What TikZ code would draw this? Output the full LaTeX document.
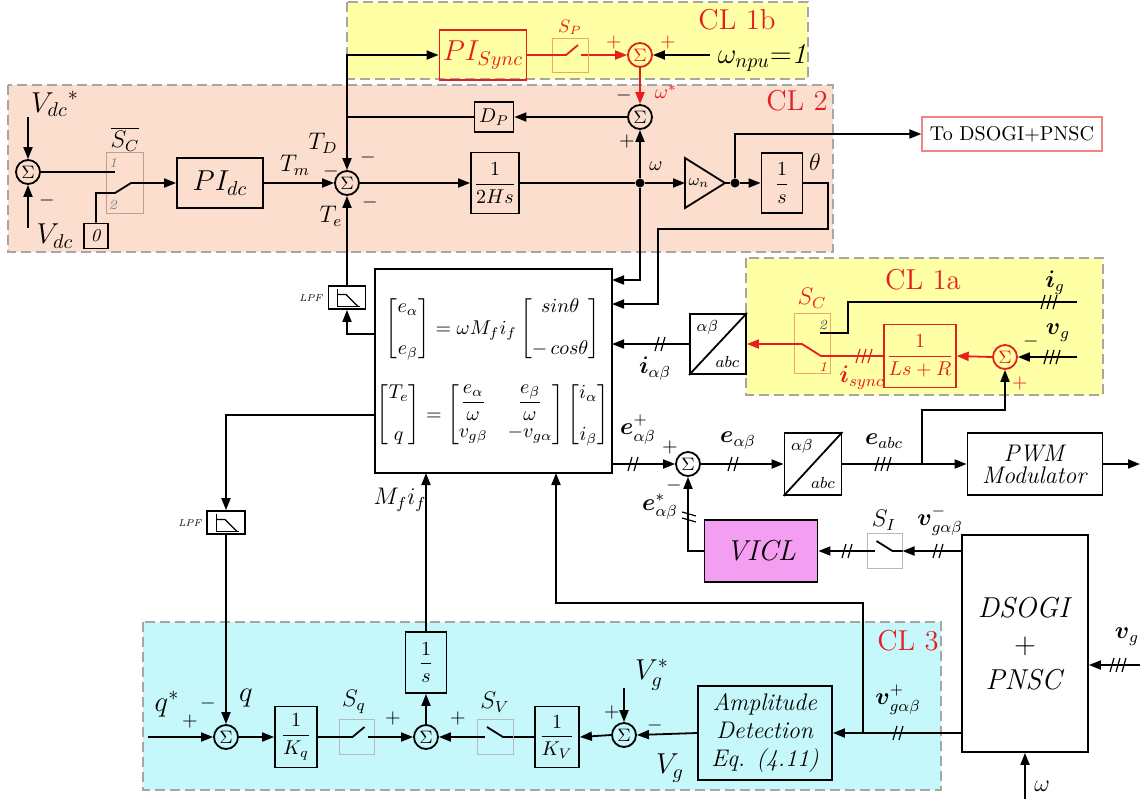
\documentclass[tikz,border=0pt]{standalone}
\usepackage{amsmath,amssymb}
\usetikzlibrary{arrows.meta}
\definecolor{clyellow}{RGB}{255,255,165}
\definecolor{clpeach}{RGB}{251,222,206}
\definecolor{clcyan}{RGB}{198,247,250}
\definecolor{clred}{RGB}{230,30,30}
\definecolor{viclpink}{RGB}{243,158,240}
\definecolor{swgray}{RGB}{185,185,185}
\definecolor{sworange}{RGB}{238,170,100}
\definecolor{swbrown}{RGB}{190,160,140}

\begin{document}
\begin{tikzpicture}[x=0.5pt, y=-0.5pt, line width=0.9pt, >={Triangle[length=6pt,width=4.5pt]},
  every node/.style={font=\normalsize},
  blk/.style={draw, inner sep=1pt},
  sumnode/.style={draw, circle, inner sep=0pt, minimum size=12pt, font=\small},
  swbox/.style={draw=swgray, line width=0.5pt, inner sep=0pt},
  region/.style={draw=gray!70, line width=1pt, dash pattern=on 5pt off 2.5pt},
  cllabel/.style={text=clred, font=\Large},
  sgn/.style={inner sep=0pt},
  dot/.style={circle, fill, inner sep=0pt, minimum size=4.5pt},
  bustwo/.pic={\draw[line width=0.6pt] (-5,7) -- (-1,-7) (1,7) -- (5,-7);},
  busthree/.pic={\draw[line width=0.6pt] (-7,7) -- (-3,-7) (-1,7) -- (3,-7) (5,7) -- (9,-7);},
  lpfsym/.pic={\draw[line width=0.4pt] (-10,-9) -- (-10,9) -- (13,9); \draw[line width=0.6pt] (-10,-3) -- (-1,-3) -- (11,9);},
  swup/.pic={\draw (-18,0) -- (-4,0) -- (8,-10); \draw (11,0) -- (18,0);},
  swdown/.pic={\draw (-18,0) -- (-10,0); \draw (-8,-10) -- (8,0) -- (18,0);}]
  \useasboundingbox (0,0) rectangle (1147,799);

  % control loop areas
  \filldraw[region, fill=clpeach] (8,85) rectangle (833,252);
  \filldraw[region, fill=clyellow] (347,2) rectangle (808,79);
  \filldraw[region, fill=clyellow] (746,258) rectangle (1103,395);
  \filldraw[region, fill=clcyan] (143,622) rectangle (941,790);
  \node[cllabel] (cl1b) at (737,20) {CL 1b};
  \node[cllabel] (cl2) at (797,101) {CL 2};
  \node[cllabel] (cl1a) at (923,280) {CL 1a};
  \node[cllabel] (cl3) at (908,641) {CL 3};

  % CL 1b
  \node[blk, draw=clred, text=clred, minimum width=43.5pt, minimum height=25pt, font=\Large] (pisync) at (483,55) {$PI_{Sync}$};
  \node[swbox, draw=sworange, minimum width=18pt, minimum height=17pt] (swp) at (570,55) {};
  \pic[clred] at (swp) {swup};
  \node[text=clred, font=\small] (lsp) at (570,27) {$S_P$};
  \node[sumnode, draw=clred, text=clred] (s1) at (640,55) {$\Sigma$};
  \node[sgn, text=clred] (pl1) at (614,42) {$+$};
  \node[sgn, text=clred] (pl2) at (668,42) {$+$};
  \node[font=\Large] (wnpu) at (762,58) {$\omega_{npu}{=}\textit{1}$};
  \draw[clred] (pisync.east) -- (swp.west);
  \draw[clred, ->] (swp.east) -- (s1.west);
  \draw[->] (wnpu.west |- s1) -- (s1.east);

  % CL 2
  \node[sumnode] (s2) at (640,117) {$\Sigma$};
  \draw[clred, ->] (s1.south) -- (s2.north);
  \node[sgn] (mi1) at (624,95) {$-$};
  \node[text=clred] (wstar) at (666,92) {$\omega^{*}$};
  \node[sgn] (pl3) at (627,141) {$+$};
  \node[blk, minimum width=19.5pt, minimum height=15pt] (dp) at (494,117) {$D_P$};
  \draw[->] (s2.west) -- (dp.east);
  \node[sumnode] (sT) at (347,183) {$\Sigma$};
  \draw[->] (dp.west) -- (347,117) -- (sT.north);
  \draw[->] (347,117) -- (347,55) -- (pisync.west);
  \node[font=\large] (ltd) at (323,143) {$T_D$};
  \node[font=\large] (ltm) at (295,165) {$T_m$};
  \node[font=\large] (lte) at (331,216) {$T_e$};
  \node[sgn] (mi2) at (331,171) {$-$};
  \node[sgn] (mi3) at (368,157) {$-$};
  \node[sgn] (mi4) at (370,202) {$-$};
  \node[blk, minimum width=43pt, minimum height=25pt, font=\Large] (pidc) at (220,183) {$PI_{dc}$};
  \draw[->] (pidc.east) -- (sT.west);

  \node[sumnode] (sV) at (28,172) {$\Sigma$};
  \coordinate (vref) at (28,117);
  \coordinate (vmeas) at (28,228);
  \draw[->] (vref) -- (sV.north);
  \draw[->] (vmeas) -- (sV.south);
  \node[font=\Large] (lvref) at (55,104) {${V_{dc}}^{*}$};
  \node[font=\Large] (lvdc) at (55,236) {$V_{dc}$};
  \node[sgn] (mi5) at (47,200) {$-$};
  \node[swbox, draw=swbrown, minimum width=18.5pt, minimum height=30.5pt] (swdc) at (124.5,182.5) {};
  \node[font=\large] (lsc) at (125,139) {$\overline{S_C}$};
  \node[font=\scriptsize, text=gray] (t1a) at (113,163) {\textit{1}};
  \node[font=\scriptsize, text=gray] (t2a) at (113,205) {\textit{2}};
  \node[blk, minimum width=12pt, minimum height=12.5pt, font=\small] (zero) at (96,236) {\textit{0}};
  \draw (sV.east) -- (115,172);
  \draw[->] (zero.north) |- (115,193) -- (131,183) -- (pidc.west);

  \node[blk, minimum width=24pt, minimum height=30.5pt] (hs) at (495,183) {$\dfrac{1}{2Hs}$};
  \draw[->] (sT.east) -- (hs.west);
  \node[dot] (wdot) at (640,183) {};
  \draw (hs.east) -- (wdot);
  \draw[->] (wdot) -- (s2.south);
  \node (lw) at (656,166) {$\omega$};
  \coordinate (gin) at (685,183);
  \coordinate (gout) at (725,183);
  \draw (685,158) -- (gout) -- (685,208) -- cycle;
  \node[font=\footnotesize] (lwn) at (699,183) {$\omega_n$};
  \draw[->] (wdot) -- (gin);
  \node[dot] (tdot) at (735,183) {};
  \draw (gout) -- (tdot);
  \node[blk, minimum width=20.5pt, minimum height=30pt] (ints) at (782,183) {$\dfrac{1}{s}$};
  \draw[->] (tdot) -- (ints.west);
  \node[font=\large] (lth) at (815,162) {$\theta$};
  \node[draw=clred!55, line width=0.6pt, minimum width=90pt, minimum height=17pt] (todsogi) at (1012,134) {To DSOGI+PNSC};
  \draw[->] (tdot) |- (todsogi.west);

  % virtual synchronous machine equations
  \node[blk, minimum width=118.5pt, minimum height=102pt] (main) at (493.5,371) {};
  \node[inner sep=0pt] (eqa) at (493,329) {$\begin{bmatrix} e_\alpha \\[9pt] e_\beta \end{bmatrix} = \omega M_f i_f \begin{bmatrix} sin\theta \\[9pt] -\,cos\theta \end{bmatrix}$};
  \node[inner sep=0pt] (eqb) at (493,415) {$\begin{bmatrix} T_e \\[9pt] q \end{bmatrix} = \begin{bmatrix} \dfrac{e_\alpha}{\omega} & \dfrac{e_\beta}{\omega} \\[2pt] v_{g\beta} & -v_{g\alpha} \end{bmatrix} \begin{bmatrix} i_\alpha \\[9pt] i_\beta \end{bmatrix}$};
  \draw[->] (wdot) -- (640,280) -- (612,280);
  \draw[->] (ints.east) -- (828,183) -- (828,229) -- (658,229) -- (658,304) -- (612,304);

  \node[blk, minimum width=18.5pt, minimum height=11.5pt] (lpf1) at (347,297.5) {};
  \pic at (lpf1) {lpfsym};
  \node[font=\tiny] (llpf1) at (311,298) {\textit{LPF}};
  \draw[->] (375,334) -| (lpf1.south);
  \draw[->] (lpf1.north) -- (sT.south);
  \node[blk, minimum width=19pt, minimum height=11.5pt] (lpf2) at (226,522.5) {};
  \pic at (lpf2) {lpfsym};
  \node[font=\tiny] (llpf2) at (190,523) {\textit{LPF}};
  \draw[->] (375,415) -| (lpf2.north);

  % CL 1a
  \node[blk, minimum width=28pt, minimum height=30pt] (abc2) at (718,344) {};
  \draw (abc2.south west) -- (abc2.north east);
  \node[font=\footnotesize, anchor=north west] (ab2) at (abc2.north west) {$\alpha\beta$};
  \node[font=\footnotesize, anchor=south east] (abcb2) at (abc2.south east) {$abc$};
  \draw[->] (abc2.west) -- (612,344);
  \pic at (660,344) {bustwo};
  \node[font=\large] (liab) at (655,369) {$\boldsymbol{i}_{\alpha\beta}$};
  \node[swbox, draw=sworange, minimum width=18pt, minimum height=30pt] (swc) at (812,343) {};
  \node[text=clred, font=\large] (lsc2) at (812,298) {$S_C$};
  \node[font=\scriptsize, text=black!70] (t2b) at (823,325) {\textit{2}};
  \node[font=\scriptsize, text=clred] (t1b) at (823,367) {\textit{1}};
  \node[blk, draw=clred, text=clred, minimum width=32.5pt, minimum height=31.5pt] (lsr) at (920,356) {$\dfrac{1}{Ls+R}$};
  \draw[clred, ->] (lsr.west) -- (821,356) -- (802,344) -- (abc2.east);
  \pic[clred] at (863,356) {busthree};
  \node[text=clred, font=\large] (lisync) at (862,378) {$\boldsymbol{i}_{sync}$};
  \coordinate (igin) at (1077,302);
  \draw (igin) -- (848,302) |- (820,333);
  \pic at (1048,302) {busthree};
  \node[font=\large] (lig) at (1055,283) {$\boldsymbol{i}_g$};
  \node[sumnode, draw=clred, text=clred] (sI) at (1005,357) {$\Sigma$};
  \draw[clred, ->] (sI.west) -- (lsr.east);
  \coordinate (vgin1) at (1077,357);
  \draw[->] (vgin1) -- (sI.east);
  \pic at (1051,357) {busthree};
  \node[font=\large] (lvg) at (1058,333) {$\boldsymbol{v}_g$};
  \node[sgn] (mi6) at (1031,341) {$-$};
  \node[sgn, text=clred] (pl4) at (1020,383) {$+$};

  % voltage reference path
  \node[sumnode] (sE) at (688,464) {$\Sigma$};
  \draw[->] (612,464) -- (sE.west);
  \pic at (633,464) {bustwo};
  \node[font=\large] (lep) at (638,430) {$\boldsymbol{e}^{+}_{\alpha\beta}$};
  \node[sgn] (pl5) at (670,447) {$+$};
  \node[blk, minimum width=28.5pt, minimum height=31pt] (abc1) at (813,464) {};
  \draw (abc1.south west) -- (abc1.north east);
  \node[font=\footnotesize, anchor=north west] (ab1) at (abc1.north west) {$\alpha\beta$};
  \node[font=\footnotesize, anchor=south east] (abcb1) at (abc1.south east) {$abc$};
  \draw[->] (sE.east) -- (abc1.west);
  \pic at (733,464) {bustwo};
  \node[font=\large] (le) at (738,441) {$\boldsymbol{e}_{\alpha\beta}$};
  \node[blk, minimum width=67.5pt, minimum height=31pt, font=\large, align=center] (pwm) at (1035,464) {\textit{PWM}\\[-3pt]\textit{Modulator}};
  \coordinate (ej) at (922,464);
  \draw (abc1.east) -- (ej);
  \draw[->] (ej) -- (pwm.west);
  \pic at (882,464) {busthree};
  \node[font=\large] (leabc) at (884,441) {$\boldsymbol{e}_{abc}$};
  \draw[->] (ej) -- (922,410) -| (sI.south);
  \coordinate (pwmout) at (1140,464);
  \draw[->] (pwm.east) -- (pwmout);

  \node[blk, fill=viclpink, minimum width=56.5pt, minimum height=31pt, font=\Large] (vicl) at (761,551) {\textit{VICL}};
  \draw[->] (vicl.west) -| (sE.south);
  \pic[rotate=90] at (689,517) {bustwo};
  \node[sgn] (mi7) at (674,485) {$-$};
  \node[font=\large] (les) at (660,507) {$\boldsymbol{e}^{*}_{\alpha\beta}$};
  \node[swbox, minimum width=17.5pt, minimum height=17.5pt] (swi) at (884.5,551) {};
  \pic at (swi) {swdown};
  \node[font=\large] (lsi) at (884,520) {$S_I$};
  \node[blk, minimum width=63pt, minimum height=108.5pt, font=\Large, align=center] (dsogi) at (1025,643.5) {\textit{DSOGI}\\$+$\\\textit{PNSC}};
  \draw[->] (dsogi.west |- swi) -- (swi.east);
  \draw[->] (swi.west) -- (vicl.east);
  \pic at (938,551) {bustwo};
  \pic at (847,551) {bustwo};
  \node[font=\large] (lvm) at (940,521) {$\boldsymbol{v}^{-}_{g\alpha\beta}$};
  \coordinate (vgin2) at (1140,665);
  \draw[->] (vgin2) -- (dsogi.east |- vgin2);
  \pic at (1117,665) {busthree};
  \node[font=\large] (lvg2) at (1127,637) {$\boldsymbol{v}_g$};
  \coordinate (win) at (1025,799);
  \draw[->] (win) -- (dsogi.south);
  \node[font=\large] (lw2) at (1042,786) {$\omega$};

  % CL 3
  \node[blk, minimum width=67pt, minimum height=47pt, font=\large, align=center] (amp) at (765,733) {\textit{Amplitude}\\\textit{Detection}\\\textit{Eq. (4.11)}};
  \draw[->] (dsogi.west |- amp) -- (amp.east);
  \pic at (898,733) {bustwo};
  \node[font=\large] (lvp) at (898,700) {$\boldsymbol{v}^{+}_{g\alpha\beta}$};
  \draw[->] (863,733) |- (556,603) -- (556,473);
  \node[sumnode] (sVg) at (624,735) {$\Sigma$};
  \draw[->] (amp.west) -- (sVg.east);
  \coordinate (vgref) at (624,688);
  \draw[->] (vgref) -- (sVg.north);
  \node[font=\Large] (lvgr) at (652,675) {$V_g^{*}$};
  \node[font=\Large] (lvg3) at (670,768) {$V_g$};
  \node[sgn] (pl6) at (612,712) {$+$};
  \node[sgn] (mi8) at (655,725) {$-$};
  \node[blk, minimum width=22pt, minimum height=30.5pt] (kv) at (557,737) {$\dfrac{1}{K_V}$};
  \draw[->] (sVg.west) -- (kv.east);
  \node[swbox, minimum width=18pt, minimum height=17.5pt] (swv) at (495,737) {};
  \pic at (swv) {swdown};
  \node[font=\large] (lsv) at (495,702) {$S_V$};
  \draw (kv.west) -- (swv.east);
  \node[sumnode] (sM) at (426,737) {$\Sigma$};
  \draw[->] (swv.west) -- (sM.east);
  \node[sgn] (pl7) at (458,718) {$+$};
  \node[sgn] (pl8) at (393,718) {$+$};
  \node[blk, minimum width=20.5pt, minimum height=30.5pt] (invs) at (426,662.5) {$\dfrac{1}{s}$};
  \draw[->] (sM.north) -- (invs.south);
  \draw[->] (invs.north) -- (426,473);
  \node[font=\large] (lmi) at (400,500) {$M_f i_f$};
  \node[swbox, minimum width=17.5pt, minimum height=17.5pt] (swq) at (356.5,737) {};
  \pic at (swq) {swup};
  \node[font=\large] (lsq) at (354,702) {$S_q$};
  \draw[->] (swq.east) -- (sM.west);
  \node[blk, minimum width=21pt, minimum height=30.5pt] (kq) at (296,737) {$\dfrac{1}{K_q}$};
  \draw (kq.east) -- (swq.west);
  \node[sumnode] (sq) at (226,737) {$\Sigma$};
  \draw[->] (sq.east) -- (kq.west);
  \draw[->] (lpf2.south) -- (sq.north);
  \coordinate (qin) at (148,737);
  \draw[->] (qin) -- (sq.west);
  \node[font=\Large] (lqr) at (167,704) {$q^{*}$};
  \node[sgn] (pl9) at (190,721) {$+$};
  \node[sgn] (mi9) at (208,703) {$-$};
  \node[font=\Large] (lq) at (246,698) {$q$};
\end{tikzpicture}
\end{document}
